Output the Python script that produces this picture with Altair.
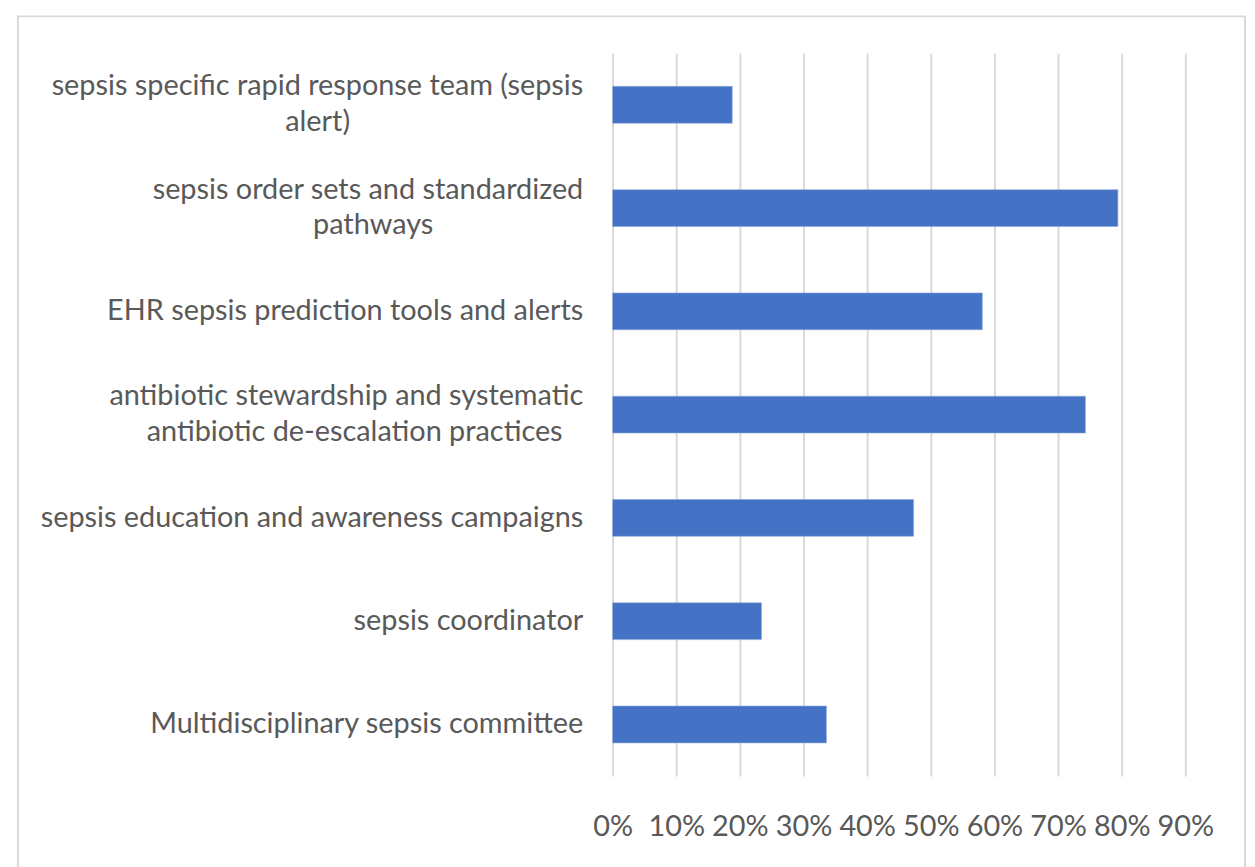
import json
import altair as alt
import pandas as pd

categories = [
    "sepsis specific rapid response team (sepsis alert)",
    "sepsis order sets and standardized pathways",
    "EHR sepsis prediction tools and alerts",
    "antibiotic stewardship and systematic antibiotic de-escalation practices",
    "sepsis education and awareness campaigns",
    "sepsis coordinator",
    "Multidisciplinary sepsis committee",
]
shares = [0.188, 0.794, 0.581, 0.743, 0.473, 0.234, 0.336]
label_line1 = [
    "sepsis specific rapid response team (sepsis",
    "sepsis order sets and standardized",
    "EHR sepsis prediction tools and alerts",
    "antibiotic stewardship and systematic",
    "sepsis education and awareness campaigns",
    "sepsis coordinator",
    "Multidisciplinary sepsis committee",
]
label_line2 = ["alert)", "pathways", "", "antibiotic de-escalation practices", "", "", ""]
x_ticks = [0, 0.1, 0.2, 0.3, 0.4, 0.5, 0.6, 0.7, 0.8, 0.9]

df = pd.DataFrame({
    "category": categories,
    "share": shares,
    "line1": label_line1,
    "line2": label_line2,
})

parts = []
for c, l1, l2 in zip(categories, label_line1, label_line2):
    if l2:
        parts.append(f"datum.value === {json.dumps(c)} ? {json.dumps(l1)} : ")
label_expr = "".join(parts) + "datum.value"
two_line = json.dumps([c for c, l2 in zip(categories, label_line2) if l2])
two_line_test = f"indexof({two_line}, datum.value) >= 0"

FONT = "Lato"
GREY = "#595959"
GRID = "#d9d9d9"
W, H = 576, 727
FS = 29
LINE_H = 37
PAD = 30

y_enc = alt.Y(
    "category:N",
    sort=categories,
    title=None,
    scale=alt.Scale(paddingInner=0.643, paddingOuter=0.3215),
    axis=alt.Axis(
        labelExpr=label_expr,
        labelAlign="right",
        labelBaseline="middle",
        labelOffset={"condition": {"test": two_line_test, "value": -LINE_H / 2}, "value": 0},
        labelPadding=PAD,
        labelFont=FONT,
        labelFontSize=FS,
        labelColor=GREY,
        labelLimit=800,
        labelOverlap=False,
        ticks=False,
        domain=False,
        grid=False,
    ),
)

x_enc = alt.X(
    "share:Q",
    title=None,
    scale=alt.Scale(domain=[0, 0.9], nice=False),
    axis=alt.Axis(
        values=x_ticks,
        format=".0%",
        grid=True,
        gridColor=GRID,
        gridWidth=2,
        ticks=False,
        domain=False,
        labelFont=FONT,
        labelFontSize=FS,
        labelColor=GREY,
        labelPadding=37,
        labelOverlap=False,
        labelFlush=False,
    ),
)

bars = alt.Chart(df).mark_bar(color="#4472C4", stroke="#8faadc", strokeWidth=0.6).encode(
    x=x_enc, y=y_enc
)

second_lines = (
    alt.Chart(df)
    .transform_filter("datum.line2 != ''")
    .transform_calculate(lx=f"-{PAD} - length(datum.line1) * 6.2")
    .mark_text(align="center", baseline="middle", dy=LINE_H / 2 - 1, font=FONT, fontSize=FS, color=GREY)
    .encode(
        x=alt.X("lx:Q", scale=None),
        y=alt.Y("category:N", sort=categories),
        text="line2:N",
    )
)

border = (
    alt.Chart(pd.DataFrame({"k": [0]}))
    .mark_rect(fillOpacity=0, stroke=GRID, strokeWidth=2)
    .encode(
        x=alt.value(-598),
        x2=alt.value(W + 60),
        y=alt.value(-37),
        y2=alt.value(H + 140),
    )
)

chart = (
    alt.layer(border, bars, second_lines)
    .properties(
        width=W,
        height=H,
        autosize=alt.AutoSizeParams(type="none"),
        padding={"left": 608, "top": 43, "right": 62, "bottom": 89},
    )
    .configure_view(strokeWidth=0)
)

chart.save("out.html", embed_options={"renderer": "svg", "actions": False})
